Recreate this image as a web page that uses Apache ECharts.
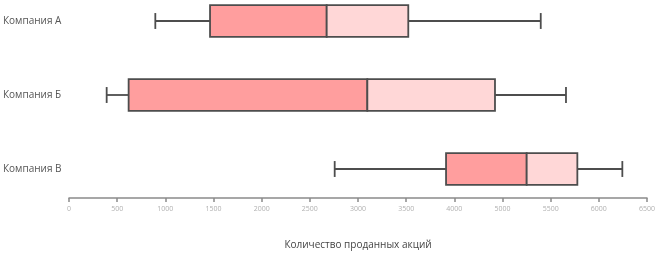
<!DOCTYPE html>
<html><head><meta charset="utf-8">
<script src="https://cdn.jsdelivr.net/npm/echarts@6/dist/echarts.min.js"></script>
<style>html,body{margin:0;padding:0;background:#fff}#c{width:658px;height:255px}</style>
</head><body><div id="c"></div>
<script>
var categories = ['Компания А', 'Компания Б', 'Компания В'];
var minVals    = [896, 391, 2758];
var q1Vals     = [1464, 619, 3914];
var medianVals = [2675, 3097, 4751];
var q3Vals     = [3522, 4422, 5277];
var maxVals    = [4897, 5159, 5744];
var tickLabels = ['0','500','1000','1500','2000','2500','3000','3500','4000','5000','5500','6000','6500'];
var axisTitle = 'Количество проданных акций';

var data = categories.map(function(c, i){ return [i, minVals[i], q1Vals[i], medianVals[i], q3Vals[i], maxVals[i]]; });

var chart = echarts.init(document.getElementById('c'));
chart.setOption({
  animation: false,
  textStyle: { fontFamily: 'Open Sans, sans-serif' },
  grid: [
    { left: 69, right: 11, top: 21, bottom: 86 },
    { left: 69, right: 11, top: 0, bottom: 50 }
  ],
  xAxis: [{
    gridIndex: 0, type: 'value', min: 0, max: 6000, interval: 500, show: false
  }, {
    gridIndex: 1, type: 'value', min: 0, max: 6000, interval: 500,
    name: axisTitle, nameLocation: 'middle', nameGap: 42,
    nameTextStyle: { color: '#444', fontSize: 10 },
    axisLine: { show: true, lineStyle: { color: '#8a8a8a', width: 1.5 } },
    axisTick: { show: true, length: 4, lineStyle: { color: '#8a8a8a', width: 1.5 } },
    axisLabel: { color: '#b0b0b0', fontSize: 7, margin: 7,
      formatter: function(v){ return tickLabels[Math.round(v/500)]; } },
    splitLine: { show: false }
  }],
  yAxis: [{
    gridIndex: 0, type: 'category', data: categories, inverse: true, boundaryGap: false,
    axisLine: { show: false }, axisTick: { show: false }, splitLine: { show: false },
    axisLabel: { color: '#555', fontSize: 10, align: 'left', margin: 66 }
  }, {
    gridIndex: 1, type: 'value', show: false, splitLine: { show: false }
  }],
  series: [{
    type: 'custom', xAxisIndex: 0, yAxisIndex: 0,
    encode: { y: 0, x: [1,2,3,4,5] },
    data: data,
    renderItem: function(params, api){
      var c = api.value(0);
      var pMin = api.coord([api.value(1), c]);
      var pQ1 = api.coord([api.value(2), c]);
      var pMed = api.coord([api.value(3), c]);
      var pQ3 = api.coord([api.value(4), c]);
      var pMax = api.coord([api.value(5), c]);
      var band = api.size([0, 1])[1];
      var h = band * 0.43;
      var y = pMed[1];
      var stroke = { stroke: '#4d4d4d', lineWidth: 1.8 };
      return { type: 'group', children: [
        { type: 'line', shape: { x1: pMin[0], y1: y, x2: pQ1[0], y2: y }, style: stroke },
        { type: 'line', shape: { x1: pQ3[0], y1: y, x2: pMax[0], y2: y }, style: stroke },
        { type: 'line', shape: { x1: pMin[0], y1: y - h/4, x2: pMin[0], y2: y + h/4 }, style: stroke },
        { type: 'line', shape: { x1: pMax[0], y1: y - h/4, x2: pMax[0], y2: y + h/4 }, style: stroke },
        { type: 'rect', shape: { x: pQ1[0], y: y - h/2, width: pMed[0]-pQ1[0], height: h },
          style: { fill: '#ff9e9e', stroke: '#4d4d4d', lineWidth: 1.8 } },
        { type: 'rect', shape: { x: pMed[0], y: y - h/2, width: pQ3[0]-pMed[0], height: h },
          style: { fill: '#ffd7d7', stroke: '#4d4d4d', lineWidth: 1.8 } }
      ]};
    }
  }]
});
</script></body></html>
